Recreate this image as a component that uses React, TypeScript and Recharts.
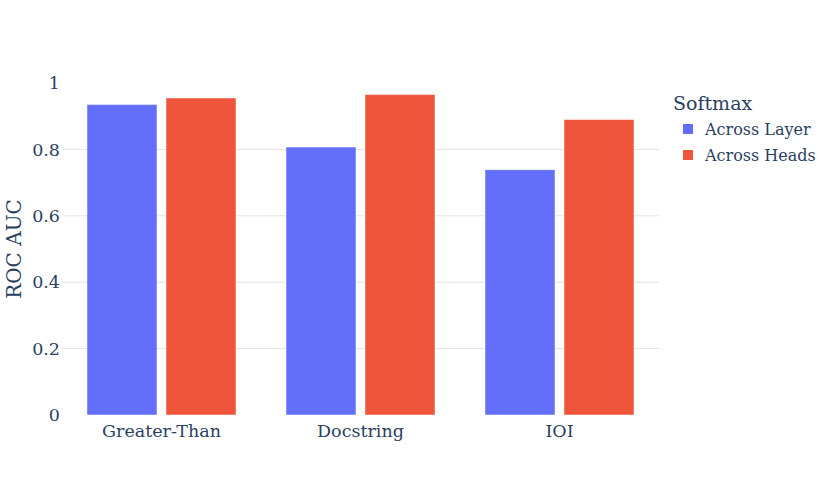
import { BarChart, Bar, XAxis, YAxis, CartesianGrid, Legend } from "recharts"

const categories = ["Greater-Than", "Docstring", "IOI"]
const acrossLayer = [0.935, 0.807, 0.739]
const acrossHeads = [0.955, 0.965, 0.89]
const yTicks = [0, 0.2, 0.4, 0.6, 0.8, 1]

const data = categories.map((name, i) => ({
  name,
  layer: acrossLayer[i],
  heads: acrossHeads[i],
}))

const FONT = "'DejaVu Serif', serif"
const TEXT = "#2a3f5f"

const LegendBox = () => (
  <div style={{ fontFamily: FONT, color: TEXT }}>
    <div style={{ height: 26, lineHeight: "26px", fontSize: 19 }}>Softmax</div>
    {[
      { label: "Across Layer", color: "#636efa" },
      { label: "Across Heads", color: "#ef553b" },
    ].map((it) => (
      <div key={it.label} style={{ display: "flex", alignItems: "center", height: 26, fontSize: 16 }}>
        <span style={{ width: 10, height: 10, background: it.color, marginLeft: 10, marginRight: 12 }} />
        <span>{it.label}</span>
      </div>
    ))}
  </div>
)

const YLabel = ({ viewBox }: any) => {
  const cy = viewBox.y + viewBox.height / 2
  return (
    <text
      x={14}
      y={cy}
      transform={`rotate(-90, 14, ${cy})`}
      textAnchor="middle"
      dominantBaseline="central"
      fill={TEXT}
      fontFamily={FONT}
      fontSize={20}
    >
      ROC AUC
    </text>
  )
}

export default function App() {
  return (
    <div style={{ position: "absolute", left: 0, top: 0, background: "#fff" }}>
      <BarChart
        width={830}
        height={498}
        data={data}
        margin={{ top: 83, right: 14, bottom: 0, left: 0 }}
        barCategoryGap={25}
        barGap={9}
      >
        <CartesianGrid vertical={false} horizontalValues={[0.2, 0.4, 0.6, 0.8]} stroke="#e3e3e3" strokeWidth={1} />
        <XAxis
          dataKey="name"
          height={83}
          axisLine={false}
          tickLine={false}
          tickSize={0}
          tickMargin={10}
          tick={{ fill: TEXT, fontFamily: FONT, fontSize: 17.5 }}
        />
        <YAxis
          width={62}
          domain={[0, 1]}
          ticks={yTicks}
          axisLine={false}
          tickLine={false}
          tickSize={0}
          tickMargin={2}
          tick={{ fill: TEXT, fontFamily: FONT, fontSize: 17.5 }}
          label={<YLabel />}
        />
        <Legend
          layout="vertical"
          align="right"
          verticalAlign="top"
          content={() => <LegendBox />}
          wrapperStyle={{ left: 673, top: 90, width: 157 }}
        />
        <Bar dataKey="layer" name="Across Layer" fill="#636efa" stroke="#ffffff" strokeWidth={0.5} isAnimationActive={false} />
        <Bar dataKey="heads" name="Across Heads" fill="#ef553b" stroke="#ffffff" strokeWidth={0.5} isAnimationActive={false} />
      </BarChart>
    </div>
  )
}
